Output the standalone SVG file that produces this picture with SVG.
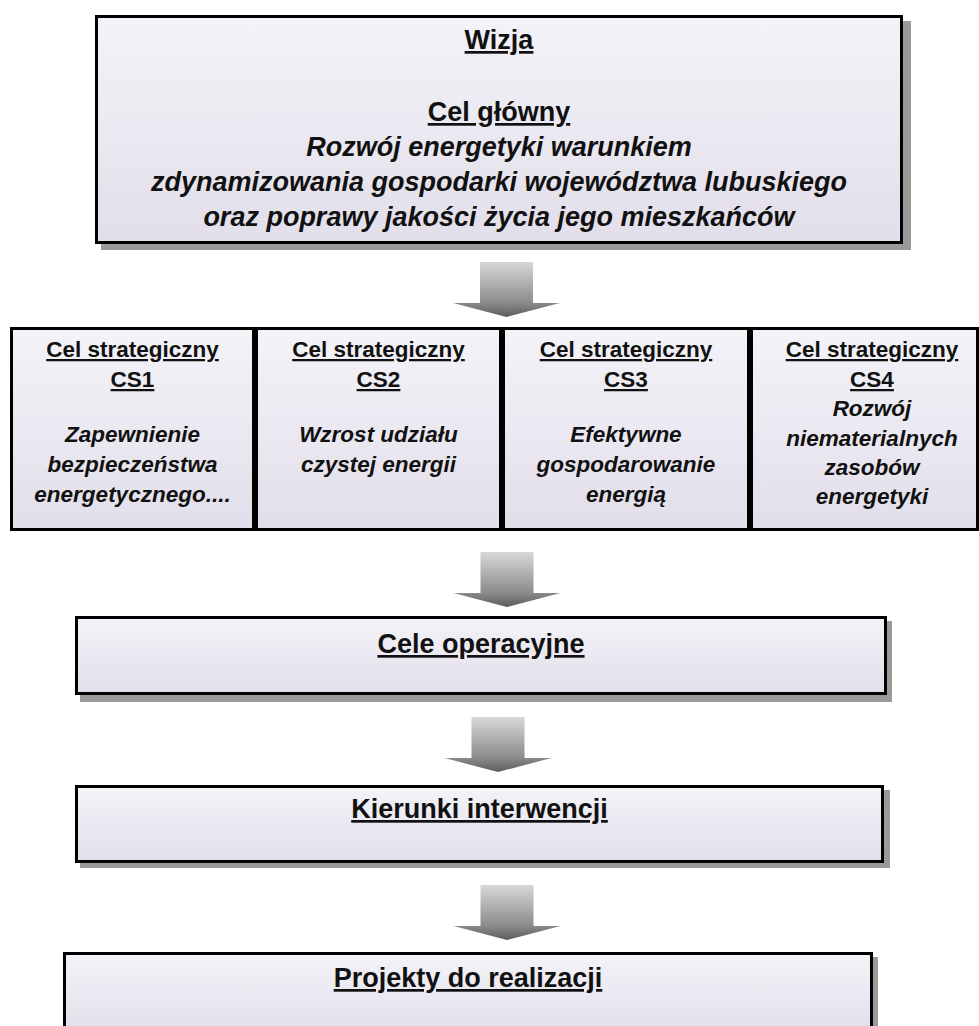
<svg xmlns="http://www.w3.org/2000/svg" width="979" height="1026" viewBox="0 0 979 1026">
<defs>
<linearGradient id="boxFill" x1="0" y1="0" x2="0" y2="1">
<stop offset="0" stop-color="#f4f3f8"/>
<stop offset="1" stop-color="#e2deea"/>
</linearGradient>
<linearGradient id="arrowFill" x1="0" y1="0" x2="0" y2="1">
<stop offset="0" stop-color="#d8d8d8"/>
<stop offset="0.75" stop-color="#8a8a8a"/>
<stop offset="1" stop-color="#5c5c5c"/>
</linearGradient>
<path id="arrowShape" d="M -26.5 0 H 26.5 V 41 H 53.5 L 0 55 L -53.5 41 H -26.5 Z"/>
</defs>
<style>
.box{fill:url(#boxFill);stroke:#000;stroke-width:3}
.shadow{fill:#9a9a9a}
.arrow{fill:url(#arrowFill)}
text{font-family:"Liberation Sans",Arial,sans-serif;font-weight:bold;fill:#111;text-anchor:middle}
.big{font-size:27px}
.mid{font-size:22.5px}
.u{text-decoration:underline}
.i{font-style:italic}
</style>
<rect width="979" height="1026" fill="#ffffff"/>

<g id="wizja">
<rect class="shadow" x="101" y="21" width="810" height="229"/>
<rect class="box" x="96.5" y="16.5" width="805" height="226"/>
<text class="big u" x="499" y="49">Wizja</text>
<text class="big u" x="499" y="121">Cel główny</text>
<text class="big i" x="499" y="156">Rozwój energetyki warunkiem</text>
<text class="big i" x="499" y="191">zdynamizowania gospodarki województwa lubuskiego</text>
<text class="big i" x="499" y="226">oraz poprawy jakości życia jego mieszkańców</text>
</g>

<g id="cs1">
<rect class="box" x="11.5" y="328.5" width="242" height="201"/>
<text class="mid u" x="132.5" y="357">Cel strategiczny</text>
<text class="mid u" x="132.5" y="387">CS1</text>
<text class="mid i" x="132.5" y="442">Zapewnienie</text>
<text class="mid i" x="132.5" y="472">bezpieczeństwa</text>
<text class="mid i" x="132.5" y="502">energetycznego....</text>
</g>

<g id="cs2">
<rect class="box" x="256.5" y="328.5" width="244" height="201"/>
<text class="mid u" x="378.5" y="357">Cel strategiczny</text>
<text class="mid u" x="378.5" y="387">CS2</text>
<text class="mid i" x="378.5" y="442">Wzrost udziału</text>
<text class="mid i" x="378.5" y="472">czystej energii</text>
</g>

<g id="cs3">
<rect class="box" x="503.5" y="328.5" width="245" height="201"/>
<text class="mid u" x="626" y="357">Cel strategiczny</text>
<text class="mid u" x="626" y="387">CS3</text>
<text class="mid i" x="626" y="442">Efektywne</text>
<text class="mid i" x="626" y="472">gospodarowanie</text>
<text class="mid i" x="626" y="502">energią</text>
</g>

<g id="cs4">
<rect class="box" x="751.5" y="328.5" width="226" height="201"/>
<text class="mid u" x="872" y="357">Cel strategiczny</text>
<text class="mid u" x="872" y="387">CS4</text>
<text class="mid i" x="872" y="416">Rozwój</text>
<text class="mid i" x="872" y="446">niematerialnych</text>
<text class="mid i" x="872" y="475">zasobów</text>
<text class="mid i" x="872" y="504">energetyki</text>
</g>

<g id="cele-operacyjne">
<rect class="shadow" x="80" y="621" width="812" height="81"/>
<rect class="box" x="76.5" y="617.5" width="809" height="76"/>
<text class="big u" x="481" y="653">Cele operacyjne</text>
</g>

<g id="kierunki-interwencji">
<rect class="shadow" x="80" y="790" width="810" height="78"/>
<rect class="box" x="76.5" y="786.5" width="806" height="75"/>
<text class="big u" x="479.5" y="818">Kierunki interwencji</text>
</g>

<g id="projekty">
<rect class="shadow" x="68" y="957" width="810" height="80"/>
<rect class="box" x="64.5" y="953.5" width="807" height="80"/>
<text class="big u" x="468" y="987">Projekty do realizacji</text>
</g>

<g id="connectors">
<use href="#arrowShape" class="arrow" transform="translate(506.5,262)"/>
<use href="#arrowShape" class="arrow" transform="translate(507,552)"/>
<use href="#arrowShape" class="arrow" transform="translate(498,717)"/>
<use href="#arrowShape" class="arrow" transform="translate(507,885)"/>
</g>
</svg>
